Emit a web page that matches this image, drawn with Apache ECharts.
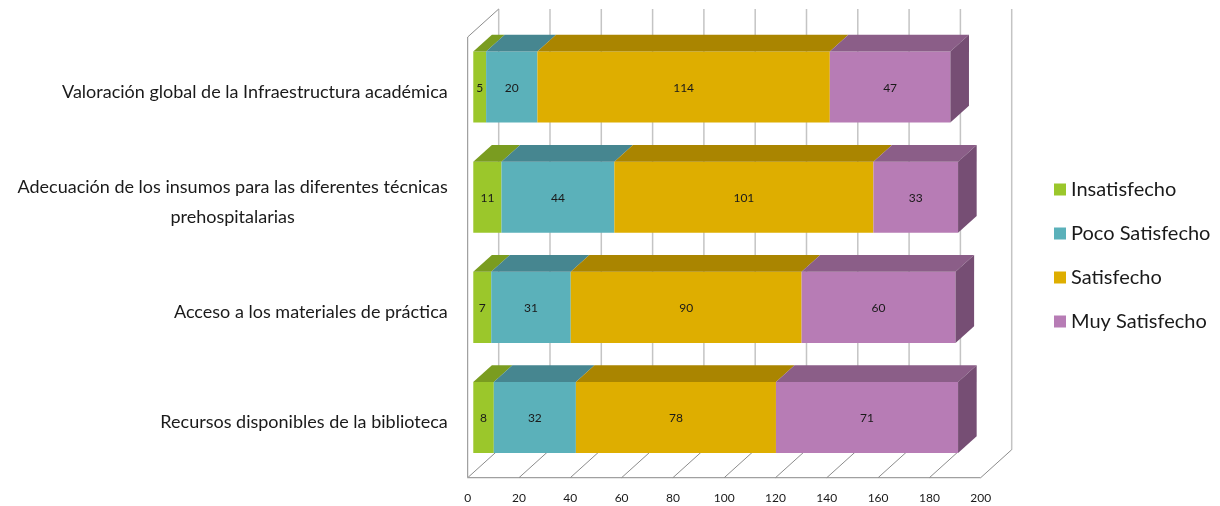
<!DOCTYPE html>
<html>
<head>
<meta charset="utf-8">
<script src="https://cdn.jsdelivr.net/npm/echarts@6/dist/echarts.min.js"></script>
<style>
  html, body { margin: 0; background: #fff; }
  #main { width: 1220px; height: 506px; }
</style>
</head>
<body>
<div id="main"></div>
<script>
// datos
var categories = [
  'Valoración global de la Infraestructura académica',
  'Adecuación de los insumos para las diferentes técnicas\nprehospitalarias',
  'Acceso a los materiales de práctica',
  'Recursos disponibles de la biblioteca'
];
var seriesNames = ['Insatisfecho', 'Poco Satisfecho', 'Satisfecho', 'Muy Satisfecho'];
var insatisfecho = [5, 11, 7, 8];
var pocoSatisfecho = [20, 44, 31, 32];
var satisfecho = [114, 101, 90, 78];
var muySatisfecho = [47, 33, 60, 71];
var xTicks = [0, 20, 40, 60, 80, 100, 120, 140, 160, 180, 200];

var frontColors = ['#9BC72B', '#5BB1BA', '#DEAE00', '#B77CB5'];
var topColors = ['#7A9C20', '#468690', '#AA8500', '#8B5E88'];
var sideColor = '#764E74';
var FONT = 'Lato, "Open Sans", sans-serif';

// profundidad 3D (px)
var DX = 31, DY = 28;
var F1 = 0.18, F2 = 0.78;

var chart = echarts.init(document.getElementById('main'));

var allValues = [insatisfecho, pocoSatisfecho, satisfecho, muySatisfecho];

function barRender(s) {
  return function (params, api) {
    var cat = api.value(0), base = api.value(1), val = api.value(2);
    var p0 = api.coord([base, cat]);
    var p1 = api.coord([base + val, cat]);
    var h = api.size([0, 1])[1] * 0.645;
    var fx = DX * F1, fy = DY * F1;
    var dx = DX * (F2 - F1), dy = DY * (F2 - F1);
    var x0 = p0[0] + fx, x1 = p1[0] + fx;
    var yt = p0[1] - h / 2 - fy, yb = p0[1] + h / 2 - fy;
    var children = [
      { type: 'rect', shape: { x: x0, y: yt, width: x1 - x0, height: yb - yt },
        style: { fill: frontColors[s] } },
      { type: 'polygon', shape: { points: [[x0, yt], [x1, yt], [x1 + dx, yt - dy], [x0 + dx, yt - dy]] },
        style: { fill: topColors[s] } }
    ];
    if (s === allValues.length - 1) {
      children.push({ type: 'polygon',
        shape: { points: [[x1, yt], [x1 + dx, yt - dy], [x1 + dx, yb - dy], [x1, yb]] },
        style: { fill: sideColor } });
    }
    children.push({ type: 'text',
      style: { text: String(val), x: (x0 + x1) / 2, y: (yt + yb) / 2 + 1,
        align: 'center', verticalAlign: 'middle', fontSize: 12, fontFamily: FONT, fill: '#1a1a1a' } });
    return { type: 'group', children: children };
  };
}

function wallRender(params, api) {
  var cs = params.coordSys;
  var top = cs.y, bottom = cs.y + cs.height;
  var x = api.coord([api.value(0), 0])[0];
  var children = [
    // linea de la pared del fondo
    { type: 'line', shape: { x1: x + DX, y1: top - DY, x2: x + DX, y2: bottom - DY },
      style: { stroke: '#c4c4c4', lineWidth: 1.5 } },
    // diagonal del piso
    { type: 'line', shape: { x1: x, y1: bottom, x2: x + DX, y2: bottom - DY },
      style: { stroke: '#8c8c8c', lineWidth: 1 } }
  ];
  if (params.dataIndex === 0) {
    children.push(
      { type: 'line', shape: { x1: x, y1: top, x2: x, y2: bottom }, style: { stroke: '#8c8c8c', lineWidth: 1 } },
      { type: 'line', shape: { x1: x, y1: top, x2: x + DX, y2: top - DY }, style: { stroke: '#8c8c8c', lineWidth: 1 } },
      { type: 'line', shape: { x1: x, y1: bottom, x2: cs.x + cs.width, y2: bottom }, style: { stroke: '#a0a0a0', lineWidth: 1.2 } }
    );
  }
  return { type: 'group', children: children };
}

var series = [{
  type: 'custom',
  name: 'walls',
  silent: true,
  renderItem: wallRender,
  encode: { x: 0 },
  data: xTicks.map(function (v) { return [v]; }),
  z: 1
}];

allValues.forEach(function (vals, s) {
  var data = vals.map(function (v, i) {
    var base = 0;
    for (var k = 0; k < s; k++) base += allValues[k][i];
    return [i, base, v];
  });
  series.push({
    type: 'custom',
    name: seriesNames[s],
    renderItem: barRender(s),
    itemStyle: { color: frontColors[s] },
    encode: { y: 0, x: 2 },
    data: data,
    z: 2 + s
  });
});

chart.setOption({
  animation: false,
  backgroundColor: '#fff',
  color: frontColors,
  grid: { left: 467.7, right: 239.3, top: 37, bottom: 28.3 },
  legend: {
    data: seriesNames,
    orient: 'vertical',
    left: 1049,
    top: 174,
    icon: 'rect',
    itemWidth: 12,
    itemHeight: 12,
    itemGap: 23,
    textStyle: { fontSize: 20, fontFamily: FONT, color: '#1a1a1a', lineHeight: 21 }
  },
  xAxis: {
    type: 'value',
    min: 0,
    max: 200,
    interval: 20,
    axisLine: { show: false },
    axisTick: { show: false },
    splitLine: { show: false },
    axisLabel: { margin: 14, fontSize: 12, fontFamily: FONT, color: '#1a1a1a' }
  },
  yAxis: {
    type: 'category',
    inverse: true,
    data: categories,
    axisLine: { show: false },
    axisTick: { show: false },
    splitLine: { show: false },
    axisLabel: {
      margin: 20,
      formatter: function (v) {
        return v.split('\n').map(function (l) { return '{c|' + l + '}'; }).join('\n');
      },
      rich: { c: { fontSize: 18, fontFamily: FONT, color: '#1a1a1a', align: 'center', lineHeight: 30 } }
    }
  },
  series: series
});
</script>
</body>
</html>
